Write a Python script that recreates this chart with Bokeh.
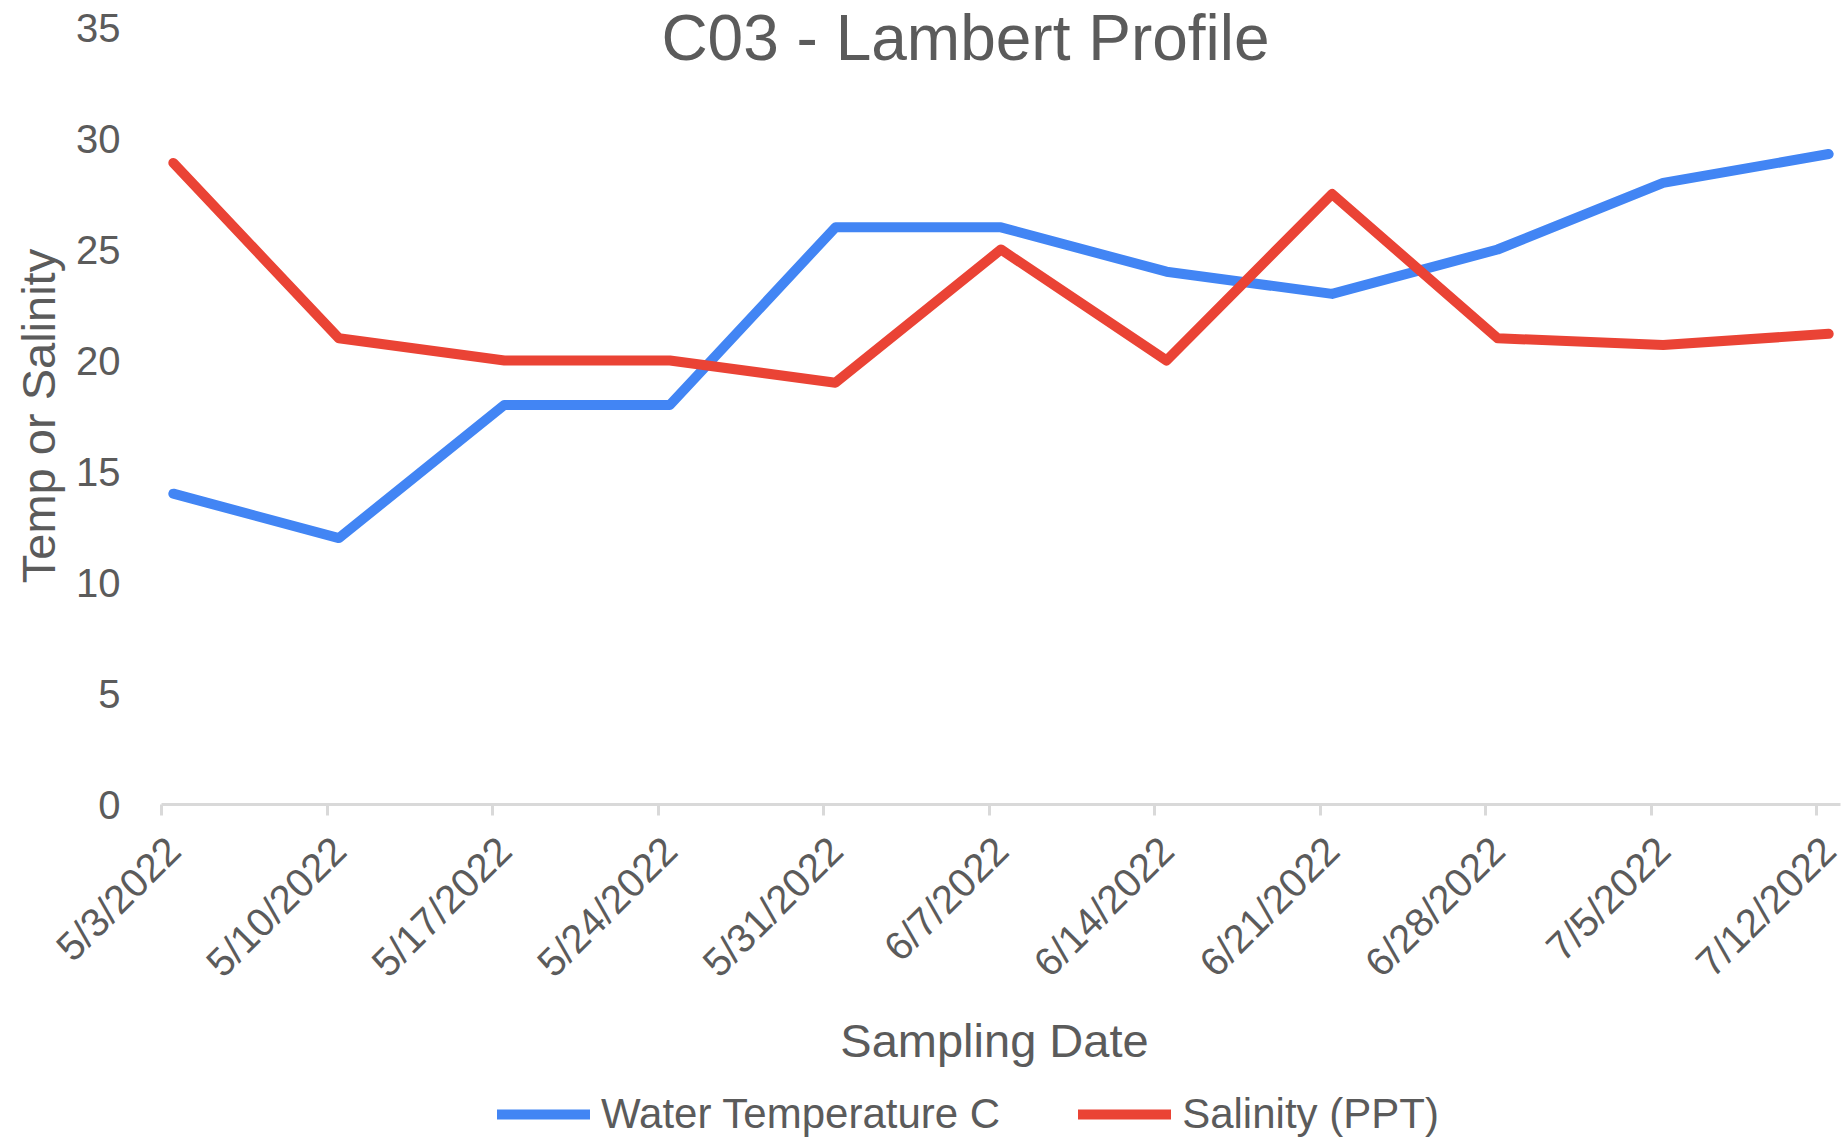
import math
import pandas as pd
from bokeh.plotting import figure
from bokeh.models import (Range1d, FixedTicker, Legend, LegendItem, Label,
                          ColumnDataSource, LinearAxis)
from bokeh.embed import file_html
from bokeh.resources import INLINE

# ---- data ----
dates = ["5/3/2022", "5/10/2022", "5/17/2022", "5/24/2022", "5/31/2022", "6/7/2022",
         "6/14/2022", "6/21/2022", "6/28/2022", "7/5/2022", "7/12/2022"]
water_temp = [14, 12, 18, 18, 26, 26, 24, 23, 25, 28, 29.3]
salinity = [28.9, 21, 20, 20, 19, 25, 20, 27.5, 21, 20.7, 21.2]
y_ticks = [0, 5, 10, 15, 20, 25, 30, 35]
title_text = "C03 - Lambert Profile"
x_title = "Sampling  Date"
y_title = "Temp or Salinity"
series_names = ["Water Temperature C", "Salinity (PPT)"]

# day offsets from first sampling date (date axis, points centred in their day)
dt = pd.to_datetime(dates, format="%m/%d/%Y")
day = [(d - dt[0]).days for d in dt]
x_pts = [d + 0.5 for d in day]
x_end = day[-1] + 1

FONT = "Liberation Sans"
TXT = "#5b5b5b"
BLUE = "#4285F4"
RED = "#EA4335"
AXIS = "#d9d9d9"
LW = 10

# ---- layout (pixels) ----
W, H = 1844, 1139
LEFT_X, RIGHT_X = 161, 1840   # canvas columns of the axis start / end
AXIS_Y, TOP_Y = 804, 27       # canvas rows of the values 0 and 35
ppu = (AXIS_Y - TOP_Y) / 35.0
ppd = (RIGHT_X - LEFT_X) / x_end
y_lo, y_hi = -(H - AXIS_Y) / ppu, 35 + TOP_Y / ppu
x_lo, x_hi = -LEFT_X / ppd, x_end + (W - RIGHT_X) / ppd

p = figure(width=W, height=H, output_backend="svg", toolbar_location=None,
           x_axis_location=None, y_axis_location=None,
           x_range=Range1d(x_lo, x_hi), y_range=Range1d(y_lo, y_hi),
           min_border=0)
p.outline_line_color = None
p.xgrid.visible = False
p.ygrid.visible = False
p.background_fill_color = "white"
p.border_fill_color = "white"

src = ColumnDataSource(dict(x=x_pts, t=water_temp, s=salinity))
r1 = p.line("x", "t", source=src, line_color=BLUE, line_width=LW,
            line_join="round", line_cap="round")
r2 = p.line("x", "s", source=src, line_color=RED, line_width=LW,
            line_join="round", line_cap="round")

# x axis line and week ticks, drawn at value 0
xa = LinearAxis(fixed_location=0, bounds=(0, x_end))
xa.ticker = FixedTicker(ticks=day)
xa.major_label_overrides = {d: "" for d in day}
xa.axis_line_color = AXIS
xa.axis_line_width = 3
xa.major_tick_line_color = AXIS
xa.major_tick_line_width = 3
xa.major_tick_in = 0
xa.major_tick_out = 11
xa.minor_tick_line_color = None
p.add_layout(xa, "below")

# date labels (slanted, anchored at the sampling days) and axis title
xl = LinearAxis(fixed_location=0, bounds=(0, x_end))
xl.ticker = FixedTicker(ticks=x_pts)
xl.major_label_overrides = {x: lab for x, lab in zip(x_pts, dates)}
xl.major_label_orientation = math.pi / 4
xl.major_label_text_font = FONT
xl.major_label_text_font_size = "40px"
xl.major_label_text_color = TXT
xl.major_label_standoff = 28
xl.axis_line_color = None
xl.major_tick_line_color = None
xl.major_tick_in = 0
xl.major_tick_out = 11
xl.minor_tick_line_color = None
xl.axis_label = x_title
xl.axis_label_text_font = FONT
xl.axis_label_text_font_size = "47px"
xl.axis_label_text_font_style = "normal"
xl.axis_label_text_color = TXT
xl.axis_label_standoff = 11
p.add_layout(xl, "below")

# y axis at the start of the date range
ya = LinearAxis(fixed_location=0, bounds=(0, 35))
ya.ticker = FixedTicker(ticks=y_ticks)
ya.axis_line_color = None
ya.major_tick_line_color = None
ya.minor_tick_line_color = None
ya.major_tick_in = 0
ya.major_tick_out = 0
ya.major_label_standoff = 41
ya.major_label_text_font = FONT
ya.major_label_text_font_size = "40px"
ya.major_label_text_color = TXT
p.add_layout(ya, "left")

# y axis title
p.add_layout(Label(x=(38 - LEFT_X) / ppd, y=17.5, text=y_title, angle=math.pi / 2,
                   text_align="center", text_baseline="middle",
                   text_font=FONT, text_font_size="47px", text_color=TXT))

# chart title
p.add_layout(Label(x=34.0, y=y_hi - 37 / ppu, text=title_text,
                   text_align="center", text_baseline="middle",
                   text_font=FONT, text_font_size="64px", text_color=TXT))

# legend
legend = Legend(items=[LegendItem(label=series_names[0], renderers=[r1]),
                       LegendItem(label=series_names[1], renderers=[r2])],
                orientation="horizontal", location=(497, 1),
                glyph_width=93, glyph_height=44, label_height=44,
                label_standoff=11, spacing=78,
                padding=0, margin=0, border_line_color=None, background_fill_alpha=0,
                label_text_font=FONT, label_text_font_size="42px", label_text_color=TXT)
p.add_layout(legend)

open("out.html", "w").write(file_html(p, INLINE))
